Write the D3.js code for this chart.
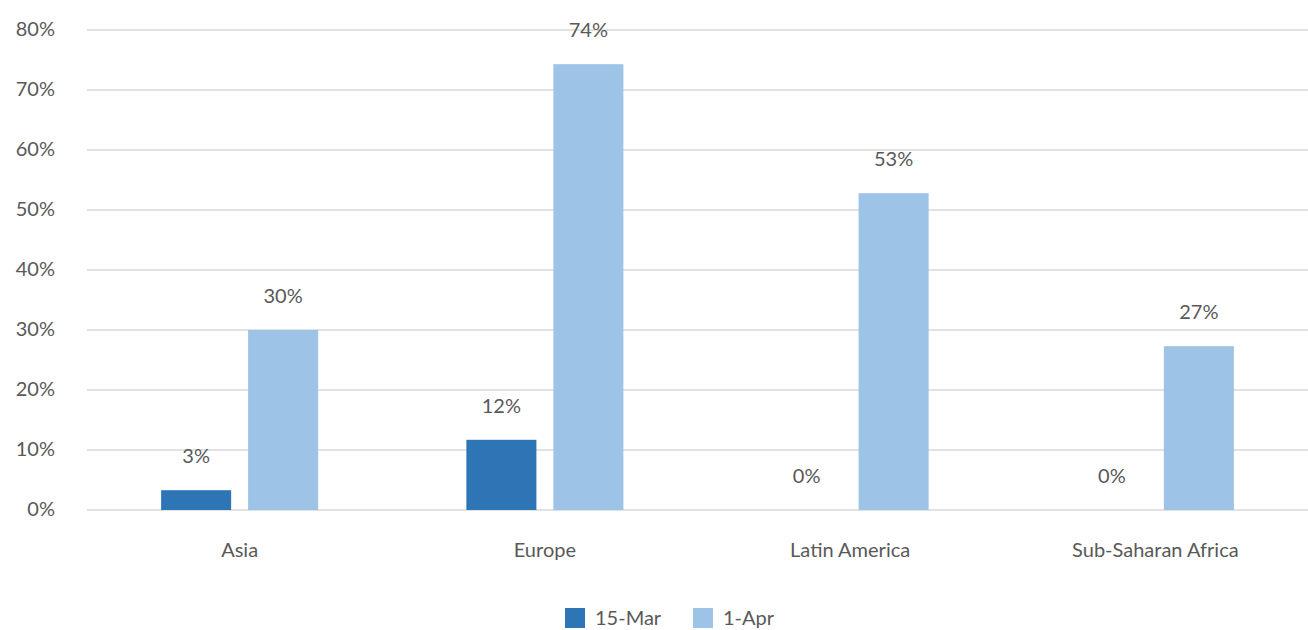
<!DOCTYPE html>
<html>
<head>
<meta charset="utf-8">
<script src="https://cdn.jsdelivr.net/npm/d3@7"></script>
<style>
  body { margin: 0; background: #fff; }
  text { font-family: Lato, "Open Sans", sans-serif; fill: #595959; }
</style>
</head>
<body>
<svg width="1308" height="630"></svg>
<script>
var categories = ["Asia", "Europe", "Latin America", "Sub-Saharan Africa"];
var seriesNames = ["15-Mar", "1-Apr"];
var mar15 = [3.3, 11.7, 0, 0];
var apr1 = [30.0, 74.3, 52.8, 27.3];
var labels15 = ["3%", "12%", "0%", "0%"];
var labelsApr = ["30%", "74%", "53%", "27%"];
var yTicks = [0, 10, 20, 30, 40, 50, 60, 70, 80];
var colors = ["#2E75B6", "#9DC3E6"];

var svg = d3.select("svg"),
    plotLeft = 87, plotRight = 1308, plotTop = 30, plotBottom = 510;

var x = d3.scaleBand()
    .domain(categories)
    .range([plotLeft, plotRight]);

var y = d3.scaleLinear()
    .domain([0, 80])
    .range([plotBottom, plotTop]);

// two bars per group, 70px wide with a 17px gap
var inner = d3.scaleBand()
    .domain(seriesNames)
    .range([-78.5, 78.5])
    .paddingInner(0.195);

// gridlines
svg.append("g").selectAll("line")
    .data(yTicks)
    .enter().append("line")
    .attr("x1", plotLeft).attr("x2", plotRight)
    .attr("y1", function(d) { return y(d); })
    .attr("y2", function(d) { return y(d); })
    .attr("stroke", "#d9d9d9")
    .attr("stroke-width", 1.5);

// y labels
svg.append("g").selectAll("text")
    .data(yTicks)
    .enter().append("text")
    .attr("x", 55)
    .attr("y", function(d) { return y(d); })
    .attr("dy", "0.3em")
    .attr("text-anchor", "end")
    .style("font-size", "20px")
    .text(function(d) { return d + "%"; });

var rows = categories.map(function(c, i) {
    return [
        {cat: c, s: seriesNames[0], v: mar15[i], lab: labels15[i]},
        {cat: c, s: seriesNames[1], v: apr1[i], lab: labelsApr[i]}
    ];
});
var flat = [].concat.apply([], rows);

function cx(d) { return x(d.cat) + x.bandwidth() / 2 + inner(d.s); }

svg.append("g").selectAll("rect")
    .data(flat)
    .enter().append("rect")
    .attr("x", cx)
    .attr("y", function(d) { return y(d.v); })
    .attr("width", inner.bandwidth())
    .attr("height", function(d) { return y(0) - y(d.v); })
    .attr("fill", function(d) { return colors[seriesNames.indexOf(d.s)]; });

// data labels
svg.append("g").selectAll("text")
    .data(flat)
    .enter().append("text")
    .attr("x", function(d) { return cx(d) + inner.bandwidth() / 2; })
    .attr("y", function(d) { return y(d.v) - 27; })
    .attr("text-anchor", "middle")
    .style("font-size", "20px")
    .text(function(d) { return d.lab; });

// category labels
svg.append("g").selectAll("text")
    .data(categories)
    .enter().append("text")
    .attr("x", function(d) { return x(d) + x.bandwidth() / 2; })
    .attr("y", 557)
    .attr("text-anchor", "middle")
    .style("font-size", "20px")
    .text(function(d) { return d; });

// legend
var legend = svg.append("g");
var legX = [565, 693];
seriesNames.forEach(function(s, i) {
    legend.append("rect")
        .attr("x", legX[i]).attr("y", 608)
        .attr("width", 20).attr("height", 20)
        .attr("fill", colors[i]);
    legend.append("text")
        .attr("x", legX[i] + 30).attr("y", 625)
        .style("font-size", "20px")
        .text(s);
});
</script>
</body>
</html>
